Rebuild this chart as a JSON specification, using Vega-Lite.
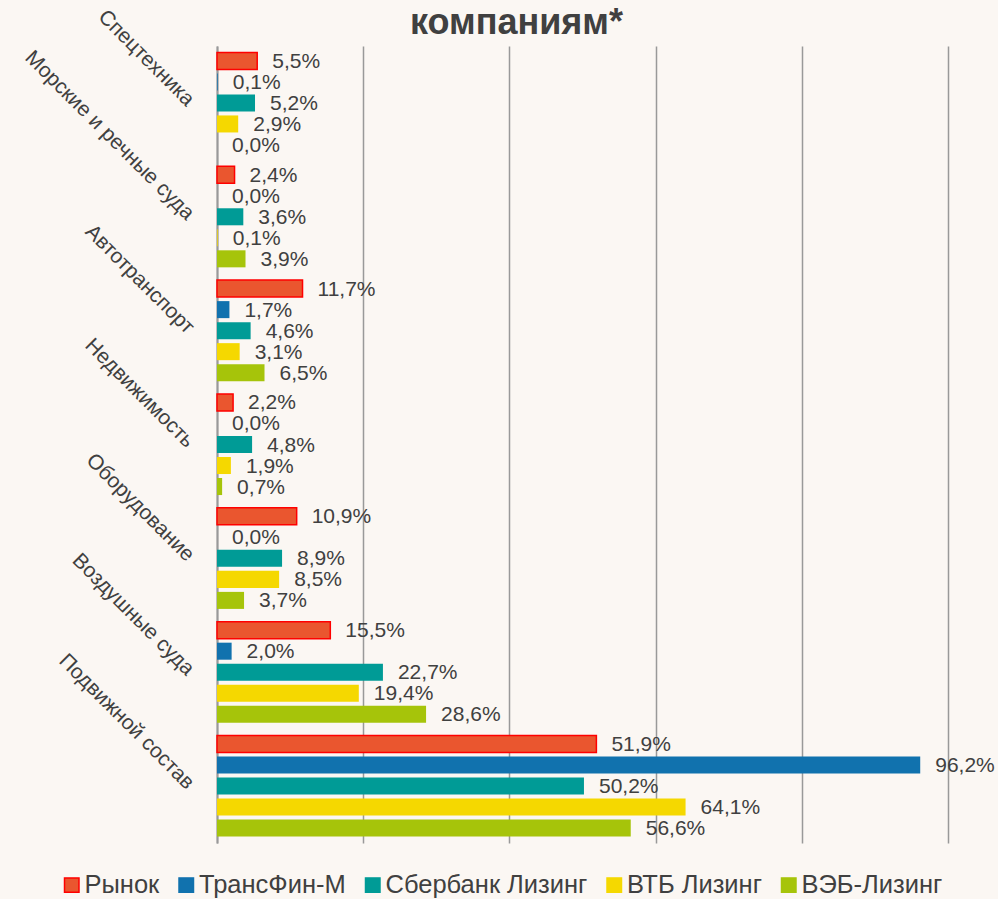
{
  "$schema": "https://vega.github.io/schema/vega-lite/v6.json",
  "autosize": {"type": "none"},
  "width": 731,
  "height": 797,
  "padding": {"left": 217, "top": 46, "right": 50, "bottom": 56},
  "background": "#FBF7F3",
  "data": {"values": [
    {"category": "Спецтехника", "company": "Рынок", "value": 5.5},
    {"category": "Спецтехника", "company": "ТрансФин-М", "value": 0.1},
    {"category": "Спецтехника", "company": "Сбербанк Лизинг", "value": 5.2},
    {"category": "Спецтехника", "company": "ВТБ Лизинг", "value": 2.9},
    {"category": "Спецтехника", "company": "ВЭБ-Лизинг", "value": 0.0},
    {"category": "Морские и речные суда", "company": "Рынок", "value": 2.4},
    {"category": "Морские и речные суда", "company": "ТрансФин-М", "value": 0.0},
    {"category": "Морские и речные суда", "company": "Сбербанк Лизинг", "value": 3.6},
    {"category": "Морские и речные суда", "company": "ВТБ Лизинг", "value": 0.1},
    {"category": "Морские и речные суда", "company": "ВЭБ-Лизинг", "value": 3.9},
    {"category": "Автотранспорт", "company": "Рынок", "value": 11.7},
    {"category": "Автотранспорт", "company": "ТрансФин-М", "value": 1.7},
    {"category": "Автотранспорт", "company": "Сбербанк Лизинг", "value": 4.6},
    {"category": "Автотранспорт", "company": "ВТБ Лизинг", "value": 3.1},
    {"category": "Автотранспорт", "company": "ВЭБ-Лизинг", "value": 6.5},
    {"category": "Недвижимость", "company": "Рынок", "value": 2.2},
    {"category": "Недвижимость", "company": "ТрансФин-М", "value": 0.0},
    {"category": "Недвижимость", "company": "Сбербанк Лизинг", "value": 4.8},
    {"category": "Недвижимость", "company": "ВТБ Лизинг", "value": 1.9},
    {"category": "Недвижимость", "company": "ВЭБ-Лизинг", "value": 0.7},
    {"category": "Оборудование", "company": "Рынок", "value": 10.9},
    {"category": "Оборудование", "company": "ТрансФин-М", "value": 0.0},
    {"category": "Оборудование", "company": "Сбербанк Лизинг", "value": 8.9},
    {"category": "Оборудование", "company": "ВТБ Лизинг", "value": 8.5},
    {"category": "Оборудование", "company": "ВЭБ-Лизинг", "value": 3.7},
    {"category": "Воздушные суда", "company": "Рынок", "value": 15.5},
    {"category": "Воздушные суда", "company": "ТрансФин-М", "value": 2.0},
    {"category": "Воздушные суда", "company": "Сбербанк Лизинг", "value": 22.7},
    {"category": "Воздушные суда", "company": "ВТБ Лизинг", "value": 19.4},
    {"category": "Воздушные суда", "company": "ВЭБ-Лизинг", "value": 28.6},
    {"category": "Подвижной состав", "company": "Рынок", "value": 51.9},
    {"category": "Подвижной состав", "company": "ТрансФин-М", "value": 96.2},
    {"category": "Подвижной состав", "company": "Сбербанк Лизинг", "value": 50.2},
    {"category": "Подвижной состав", "company": "ВТБ Лизинг", "value": 64.1},
    {"category": "Подвижной состав", "company": "ВЭБ-Лизинг", "value": 56.6}
  ]},
  "transform": [
    {"calculate": "replace(format(datum.value, '.1f'), '.', ',') + '%'", "as": "label"}
  ],
  "encoding": {
    "y": {
      "field": "category", "type": "nominal",
      "sort": ["Спецтехника", "Морские и речные суда", "Автотранспорт", "Недвижимость", "Оборудование", "Воздушные суда", "Подвижной состав"],
      "scale": {"paddingInner": 0.112, "paddingOuter": 0.056},
      "axis": {
        "title": null, "ticks": false, "domain": true, "domainColor": "#999999", "domainWidth": 2,
        "labelAngle": 45, "labelAlign": "right", "labelBaseline": "middle", "labelPadding": 27,
        "labelFontSize": 21, "labelColor": "#404040", "labelLimit": 0, "labelOverlap": false
      }
    },
    "yOffset": {
      "field": "company", "type": "nominal",
      "sort": ["Рынок", "ТрансФин-М", "Сбербанк Лизинг", "ВТБ Лизинг", "ВЭБ-Лизинг"],
      "scale": {"paddingInner": 0.19, "paddingOuter": 0}
    },
    "x": {
      "field": "value", "type": "quantitative",
      "scale": {"domain": [0, 100], "nice": false, "zero": true},
      "axis": {
        "orient": "top", "values": [0, 20, 40, 60, 80, 100], "labels": false, "ticks": false, "domain": false,
        "grid": true, "gridColor": "#999999", "gridWidth": 1.5,
        "title": "компаниям*", "titleFontSize": 36, "titleFontWeight": "bold", "titleColor": "#404040",
        "titleX": 299, "titleY": -13, "titleAlign": "center", "titleBaseline": "alphabetic", "titleAnchor": null
      }
    }
  },
  "layer": [
    {
      "mark": {"type": "bar"},
      "encoding": {
        "color": {
          "field": "company", "type": "nominal",
          "scale": {
            "domain": ["Рынок", "ТрансФин-М", "Сбербанк Лизинг", "ВТБ Лизинг", "ВЭБ-Лизинг"],
            "range": ["#EA562F", "#1172AE", "#009B96", "#F5D800", "#A6C40A"]
          },
          "legend": {
            "title": null, "orient": "none", "direction": "horizontal",
            "legendX": -158, "legendY": 826,
            "symbolType": "square", "symbolSize": 210, "symbolStrokeWidth": 1.5,
            "labelFontSize": 25.5, "labelColor": "#404040", "labelOffset": 0, "columnPadding": 13.5,
            "labelLimit": 0
          }
        },
        "stroke": {
          "field": "company", "type": "nominal",
          "scale": {
            "domain": ["Рынок", "ТрансФин-М", "Сбербанк Лизинг", "ВТБ Лизинг", "ВЭБ-Лизинг"],
            "range": ["#FF0000", "#1172AE", "#009B96", "#F5D800", "#A6C40A"]
          },
          "legend": null
        },
        "strokeWidth": {"condition": {"test": "datum.company === 'Рынок'", "value": 1.5}, "value": 0}
      }
    },
    {
      "mark": {"type": "text", "align": "left", "baseline": "middle", "dx": 15, "dy": 1, "fontSize": 21, "color": "#404040"},
      "encoding": {"text": {"field": "label", "type": "nominal"}}
    }
  ],
  "config": {
    "font": "Arial",
    "view": {"stroke": null}
  }
}
